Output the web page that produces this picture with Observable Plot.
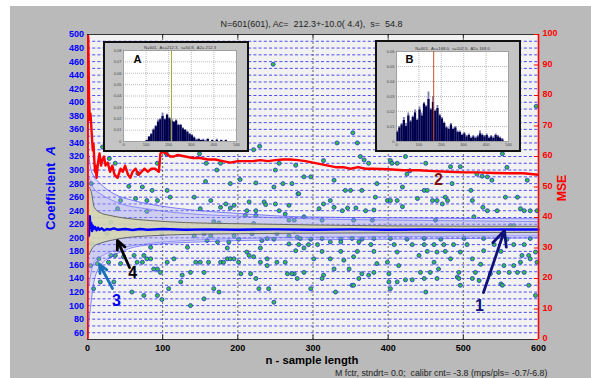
<!DOCTYPE html>
<html><head><meta charset="utf-8">
<script src="https://cdn.jsdelivr.net/npm/d3@7"></script>
<script src="https://cdn.jsdelivr.net/npm/@observablehq/plot@0.6"></script>
<style>
body{margin:0;width:591px;height:378px;overflow:hidden;position:relative;background:#fff;font-family:"Liberation Sans",Arial,sans-serif}
#bg{position:absolute;left:10px;top:6px;width:581px;height:372px;background:#bababa}
#main{position:absolute;left:0;top:0}
.abs{position:absolute;white-space:pre;line-height:1}
.inset{position:absolute;border:2px solid #111;background:#c4c4c4}
.inset svg{display:block}
.rot{position:absolute;white-space:pre;line-height:1;font-weight:bold;transform:translate(-50%,-50%) rotate(-90deg)}
</style></head><body>
<div id="bg"></div>
<div id="main"></div>
<div class="abs" style="left:0;width:623px;top:19.7px;text-align:center;font-size:9px;color:#222">N=601(601), Ac=  212.3+-10.0( 4.4),  s=  54.8</div>
<div class="abs" style="left:0;width:624px;top:355px;text-align:center;font-size:11.3px;font-weight:bold;color:#000">n - sample length</div>
<div class="abs" style="left:335px;top:368.5px;font-size:8.8px;color:#222">M fctr, stndrt= 0.0;  calibr cnt= -3.8 (mps/pls= -0.7/-6.8)</div>
<div class="rot" style="left:50px;top:187.5px;font-size:13px;color:#0000ff">Coefficient  <i>A</i></div>
<div class="rot" style="left:562px;top:188px;font-size:12.3px;color:#ff0000">MSE</div>
<div class="inset" id="insA" style="left:103px;top:41px;width:142px;height:107px"></div>
<div class="inset" id="insB" style="left:375px;top:40px;width:142px;height:108px"></div>
<script>
// ---------- data ----------
const leftTicks = [60,80,100,120,140,160,180,200,220,240,260,280,300,320,340,360,380,400,420,440,460,480,500];
const gridLevels = [60,70,80,90,100,110,120,130,140,150,160,170,180,190,200,210,220,230,240,250,260,270,280,290,300,310,320,330,340,350,360,370,380,390,400,410,420,430,440,450,460,470,480,490];
const xTicks = [0,100,200,300,400,500,600];
const xGrid = [100,200,300,400,500];
const mseTicks = [0,10,20,30,40,50,60,70,80,90,100];

// sample points: [n, coefficient A]
const samples = [
[37,310],[67,295],[105,324],[93,310],[149,324],[158,310],[177,310],[172,300],[221,330],[229,335],[250,300],[255,310],[260,280],[277,307],[5,280],[73,275],[86,270],[106,270],[157,283],[190,280],[203,286],[224,281],[248,275],[55,276],[44,255],[64,258],[79,255],[93,255],[110,260],[142,260],[164,255],[177,245],[195,248],[215,253],[235,253],[250,250],[280,265],[40,243],[79,239],[150,243],[190,244],[212,240],[255,240],[263,235],[31,223],[133,213],[168,224],[221,221],[275,211],[26,206],[99,206],[142,203],[195,203],[239,199],[279,201],[84,186],[133,186],[186,185],[230,185],
[353,355],[332,340],[359,340],[314,314],[363,320],[374,310],[368,315],[403,314],[423,320],[450,310],[405,310],[412,310],[496,305],[483,305],[558,304],[532,290],[538,285],[552,324],[288,290],[297,290],[328,285],[272,280],[281,265],[350,270],[343,270],[365,270],[385,280],[419,275],[425,294],[429,299],[448,270],[452,270],[485,280],[510,270],[525,291],[518,294],[585,285],[323,255],[314,250],[346,244],[357,244],[383,260],[399,255],[403,255],[412,255],[419,246],[439,258],[459,255],[465,255],[476,260],[472,250],[479,255],[512,255],[526,245],[532,240],[545,240],[556,260],[572,260],[576,243],[581,240],[589,240],[598,240],[308,243],[328,245],[339,240],[370,240],[381,241],[275,226],[288,231],[312,226],[354,226],[379,226],[463,226],[514,231],[563,218],[567,218],
[283,199],[297,198],[312,199],[337,198],[352,199],[365,198],[381,199],[403,199],[425,198],[448,199],[470,198],[501,199],[527,199],[558,198],[589,199],
[281,190],[294,190],[306,190],[323,194],[337,194],[361,194],[377,190],[408,190],[432,190],[448,190],[461,190],[474,190],[487,190],[505,190],[541,190],[567,190],[581,190],
[277,181],[288,185],[312,180],[337,180],[359,180],[381,180],[412,179],[441,174],[452,180],[465,179],[476,180],[496,179],[527,181],[550,180],[578,174],[587,174],[596,179],
[301,169],[323,169],[341,167],[354,172],[385,162],[399,164],[414,159],[461,164],[483,169],[512,169],[523,161],[554,159],[567,159],[576,164],[589,169],[598,164],
[275,147],[288,149],[314,145],[328,154],[348,154],[365,147],[374,145],[381,149],[401,147],[443,149],[456,149],[467,154],[492,142],[494,149],[516,149],[536,147],[547,149],[561,149],[572,149],[581,149],
[312,140],[361,140],[401,135],[412,135],[423,138],[432,138],[448,140],[465,140],[494,140],[512,140],[521,137],[550,132],[552,130],[587,130],
[297,125],[330,120],[352,130],[354,130],[403,125],[450,120],[496,130],[596,115],
[5,191],[31,174],[37,174],[48,172],[15,169],[4,159],[28,164],[44,162],[62,174],[75,174],[66,164],[73,164],[79,169],[84,169],[88,154],[93,154],[97,149],[106,164],[115,169],[124,135],[126,145],[137,149],[144,164],[150,164],[155,149],[161,164],[177,164],[181,164],[186,169],[190,169],[195,169],[204,147],[201,164],[212,179],[215,174],[221,172],[217,147],[224,140],[230,164],[239,169],[239,159],[252,164],[263,164],[266,147],[272,147],[279,140],[59,120],[75,115],[93,115],[99,109],[108,125],[137,100],[155,110],[168,125],[175,120],[228,125],[241,125],[248,105],[35,135],[17,135],[13,162],[8,125],
[184,250],[237,249],[268,248],[224,240],[210,233],[224,233],[175,222],[268,226],
[155,206],[164,203],[219,206],[252,206],[268,203],
[159,196],[173,194],[188,194],[201,198],[232,196],[248,198],[268,191],
[247,456],[597,394],[20,334],[29,317]
];

// running mean of A
const meanN = [1,2,3,4,5,6,7,8,10,12,14,16,19,22,26,30,35,40,50,60,70,80,100,130,160,200,250,300,350,400,450,500,550,600];
const meanV = [225,203,232,214,222,210,218,213,216,211,215,212,214,211,213,212,214,212,213,211.5,213,212,213,212,212.5,212,212.5,212,212.5,212,212.3,212,212.3,212.3];

// outer confidence band
const outerN  = [1,2,4,8,17,35,61,97,150,200,283,400,600];
const outerLo = [53,75,97,132,159,174,186,191,194,196,197,198,200];
const outerHi = [330,320,304,292,280,265,255,247,240,236,231,229.5,228];
// inner confidence band
const innerN  = [2,5,9,17,40,84,130,200,300,420,600];
const innerLo = [130,150,165,172,183,192,196,199,201,202,203];
const innerHi = [290,280,272,265,252,242,236,232,228,226,224];
// khaki band
const khakiN  = [2,5,9,17,30,50,84,130,190,300,420,600];
const khakiLo = [175,182,188,192,196,200,203,205,206,207,207.5,208];
const khakiHi = [275,268,245,237,233,229,225.5,222.5,221,219,217.5,217];

// MSE (right axis, 0..100)
const mseN = [0,0.4,1,2,3,4,5,6,7,8,9,10,11,12,14,16,18,20,22,24,27,30,33,36,40,44,47,50,54,57,60,64,68,72,76,80,85,90,95,97,100,105,110,115,120,130,140,150,160,170,180,190,200,210,220,230,240,250,260,270,280,290,300,310,320,330,340,350,360,370,380,400,420,440,460,480,500,520,540,560,580,600];
const mseV = [0,100,99,80,72,74,70,66,62,64,59,55,57,53,58,61,57,59,60,57,58,55,57,54,53,56,55,57,54,53,55,56,54,55,56,55,56,56,55,61,61.5,61,60,60,60.5,60,59.5,59.5,59,59,58.5,58,58.5,58.5,58.5,58.8,58.5,58.8,59,59,58.8,58.5,58,57.5,57,56.5,56.5,56,56.5,56,56,55.8,55.5,55.5,55.2,55,54.8,54.8,54.6,54.5,54.5,54];

// annotations (data coordinates: n, A)
const arrows = [
  {n1:526.8, v1:119.3, n2:554.7, v2:210.8, c:"#10107a"},
  {n1:33.3, v1:125.2, n2:16, v2:160.7, c:"#1a70b8"},
  {n1:55.9, v1:156.2, n2:39.9, v2:196.1, c:"#000000"}
];
const labels = [
  {n:521.5, v:100.2, t:"1", c:"#10107a"},
  {n:467, v:286, t:"2", c:"#7a1010"},
  {n:38.6, v:107.5, t:"3", c:"#0000ee"},
  {n:60, v:148.9, t:"4", c:"#000000"}
];

// histograms in insets
const binsA  = [100,110,120,130,140,150,160,170,180,190,200,210,220,230,240,250,260,270,280,290,300,310,320,330,340,350,360,370,380,390,400,410,420,430,440,450];
const darkA  = [0.001,0.004,0.006,0.010,0.013,0.017,0.019,0.022,0.019,0.023,0.020,0.018,0.017,0.018,0.014,0.014,0.011,0.010,0.008,0.006,0.005,0.003,0.001,0.002,0.001,0.001,0,0.002,0,0.001,0,0.001,0,0.001,0,0.001];
const lightA = [0.001,0.004,0.007,0.011,0.014,0.019,0.020,0.025,0.020,0.024,0.021,0.020,0.017,0.019,0.015,0.015,0.012,0.010,0.009,0.007,0.006,0.004,0.002,0.002,0.001,0.002,0.001,0.002,0,0.001,0,0.002,0,0.001,0,0.001];
const binsB  = [0,10,20,30,40,50,60,70,80,90,100,110,120,130,140,150,160,170,180,190,200,210,220,230,240,250,260,270,280,290,300,310,320,330,340,350,360,370,380,390,400,410,420,430,440,450,460,470];
const darkB  = [0.006,0.009,0.011,0.014,0.010,0.017,0.013,0.016,0.019,0.014,0.021,0.017,0.025,0.023,0.028,0.021,0.026,0.020,0.022,0.017,0.015,0.012,0.009,0.008,0.011,0.008,0.009,0.006,0.006,0.004,0.005,0.003,0.004,0.002,0.003,0.002,0.003,0.005,0.004,0.003,0.004,0.002,0.003,0.002,0.004,0.003,0.002,0.001];
const lightB = [0.007,0.010,0.012,0.016,0.012,0.019,0.014,0.017,0.021,0.015,0.023,0.019,0.026,0.024,0.033,0.022,0.030,0.021,0.024,0.018,0.016,0.013,0.010,0.009,0.012,0.009,0.010,0.007,0.007,0.005,0.006,0.004,0.005,0.003,0.004,0.003,0.004,0.007,0.005,0.004,0.005,0.003,0.004,0.003,0.005,0.004,0.003,0.002];
const histXTicks = [0,100,200,300,400,500];
const histYTicksA = [0,0.01,0.02,0.03,0.04,0.05,0.06,0.07,0.08];
const histYTicksB = [0,0.01,0.02,0.03,0.04,0.05,0.06];

// ---------- build ----------
const toLeft = m => 50 + m * 4.5;
const fromLeft = v => Math.round((v - 50) / 4.5);
const pts = samples.map(([n, v]) => ({n, v}));
const mean = meanN.map((n, i) => ({n, v: meanV[i]}));
const outer = outerN.map((n, i) => ({n, lo: outerLo[i], hi: outerHi[i]}));
const inner = innerN.map((n, i) => ({n, lo: innerLo[i], hi: innerHi[i]}));
const khaki = khakiN.map((n, i) => ({n, lo: khakiLo[i], hi: khakiHi[i]}));
const mse = mseN.map((n, i) => ({n, v: toLeft(mseV[i])}));

const main = Plot.plot({
  width: 591, height: 378,
  marginLeft: 87, marginRight: 53, marginTop: 34, marginBottom: 39,
  x: {domain: [0, 600]},
  y: {domain: [50, 500]},
  style: {background: "transparent", fontFamily: "Liberation Sans, Arial, sans-serif", overflow: "visible"},
  marks: [
    Plot.frame({fill: "#f2f2f2"}),
    Plot.ruleY(gridLevels, {stroke: "#3a3af2", strokeWidth: 0.9, strokeDasharray: "3,2.2"}),
    Plot.ruleX(xGrid, {stroke: "#555", strokeWidth: 0.9, strokeDasharray: "2,2"}),
    Plot.dot(pts, {x: "n", y: "v", r: 2, fill: "#2fc53a", stroke: "#2a3fd0", strokeWidth: 0.9}),
    Plot.areaY(outer, {x: "n", y1: "lo", y2: "hi", fill: "#a8a8f2", fillOpacity: 0.3, curve: "monotone-x"}),
    Plot.line(outer, {x: "n", y: "lo", stroke: "#5050ff", strokeWidth: 0.7, curve: "monotone-x"}),
    Plot.line(outer, {x: "n", y: "hi", stroke: "#5050ff", strokeWidth: 0.7, curve: "monotone-x"}),
    Plot.areaY(inner, {x: "n", y1: "lo", y2: "hi", fill: "#9a9aec", fillOpacity: 0.22, curve: "monotone-x"}),
    Plot.line(inner, {x: "n", y: "lo", stroke: "#6060ff", strokeWidth: 0.6, curve: "monotone-x"}),
    Plot.line(inner, {x: "n", y: "hi", stroke: "#6060ff", strokeWidth: 0.6, curve: "monotone-x"}),
    Plot.areaY(khaki, {x: "n", y1: "lo", y2: "hi", fill: "#d6d6ae", fillOpacity: 0.85, curve: "monotone-x"}),
    Plot.line(khaki, {x: "n", y: "lo", stroke: "#5a5a5a", strokeWidth: 0.9, curve: "monotone-x"}),
    Plot.line(khaki, {x: "n", y: "hi", stroke: "#5a5a5a", strokeWidth: 0.9, curve: "monotone-x"}),
    Plot.line(mean, {x: "n", y: "v", stroke: "#0000ff", strokeWidth: 2.4}),
    Plot.line(mse, {x: "n", y: "v", stroke: "#ff0000", strokeWidth: 2.4, clip: true}),
    Plot.ruleY([50, 500], {stroke: "#222", strokeWidth: 0.9}),
    Plot.ruleX(xGrid, {y1: 500, y2: 494, stroke: "#222"}),
    Plot.ruleX(xGrid, {y1: 50, y2: 56, stroke: "#222"}),
    Plot.ruleX([600], {stroke: "#ff0000", strokeWidth: 1.6}),
    Plot.ruleY(mseTicks.map(toLeft), {x1: 594.5, x2: 600, stroke: "#ff0000", strokeWidth: 1}),
    Plot.axisY(leftTicks, {anchor: "left", tickSize: 0, tickPadding: 3.5, label: null, color: "#0000ff", fill: "#0000ff", fontWeight: "bold", fontSize: 9}),
    Plot.axisY(mseTicks.map(toLeft), {anchor: "right", tickSize: 0, tickPadding: 4, label: null, tickFormat: d => String(fromLeft(d)), color: "#ff0000", fill: "#ff0000", fontWeight: "bold", fontSize: 9, dy: -1}),
    Plot.axisX(xTicks, {anchor: "bottom", tickSize: 0, tickPadding: 5, label: null, color: "#000", fill: "#000", fontWeight: "bold", fontSize: 9}),
    Plot.arrow(arrows, {x1: "n1", y1: "v1", x2: "n2", y2: "v2", stroke: "c", strokeWidth: 2.8, headLength: 9, headAngle: 50}),
    Plot.text(labels, {x: "n", y: "v", text: "t", fill: "c", fontSize: 16, fontWeight: "bold"})
  ]
});
document.getElementById("main").appendChild(main);

function inset(bins, light, dark, yTicks, ymax, lineX, lineColor, title, letter, m) {
  const rows = bins.map((b, i) => ({b, b2: b + 10, l: light[i], d: dark[i]}));
  return Plot.plot({
    width: m.w, height: m.h,
    marginLeft: m.l, marginRight: m.r, marginTop: m.t, marginBottom: m.b,
    x: {domain: [0, 500]}, y: {domain: [0, ymax]},
    style: {background: "transparent", fontFamily: "Liberation Sans, Arial, sans-serif", overflow: "visible"},
    marks: [
      Plot.frame({fill: "#ffffff"}),
      Plot.gridX(histXTicks.slice(1, -1), {stroke: "#777", strokeOpacity: 1, strokeWidth: 0.5, strokeDasharray: "1,1"}),
      Plot.gridY(yTicks.slice(1, -1), {stroke: "#777", strokeOpacity: 1, strokeWidth: 0.5, strokeDasharray: "1,1"}),
      Plot.rectY(rows, {x1: "b", x2: "b2", y: "l", fill: "#7c7cb4", insetLeft: 0.2, insetRight: 0.2}),
      Plot.rectY(rows, {x1: "b", x2: "b2", y: "d", fill: "#00004e"}),
      Plot.ruleX([lineX], {stroke: lineColor, strokeWidth: 1}),
      Plot.frame({stroke: "#777", strokeWidth: 0.6}),
      Plot.axisX(histXTicks, {anchor: "bottom", tickSize: 0, tickPadding: 2, label: null, fontSize: 4, fill: "#444"}),
      Plot.axisY(yTicks, {anchor: "left", tickSize: 0, tickPadding: 2, label: null, fontSize: 4, fill: "#444", tickFormat: d => d === 0 ? "0" : d.toFixed(2)}),
      Plot.text([title], {frameAnchor: "top", dy: -4, fontSize: 4.2, fill: "#333"}),
      Plot.text([letter], {frameAnchor: "top-left", dx: m.lx, dy: m.ly, fontSize: 11, fontWeight: "bold", fill: "#000"})
    ]
  });
}
document.getElementById("insA").appendChild(inset(binsA, lightA, darkA, histYTicksA, 0.08, 212.3, "#a8a838",
  "N=601,  Ac=212.3,  s=54.8,  A2= 212.3", "A", {w: 142, h: 107, l: 18, r: 11, t: 7, b: 9, lx: 10, ly: 5}));
document.getElementById("insB").appendChild(inset(binsB, lightB, darkB, histYTicksB, 0.06, 166, "#c85028",
  "N=601,  Ac=168.0,  s=102.5,  A2= 168.0", "B", {w: 142, h: 108, l: 19, r: 11, t: 9, b: 9, lx: 9, ly: 4}));
</script>
</body></html>
